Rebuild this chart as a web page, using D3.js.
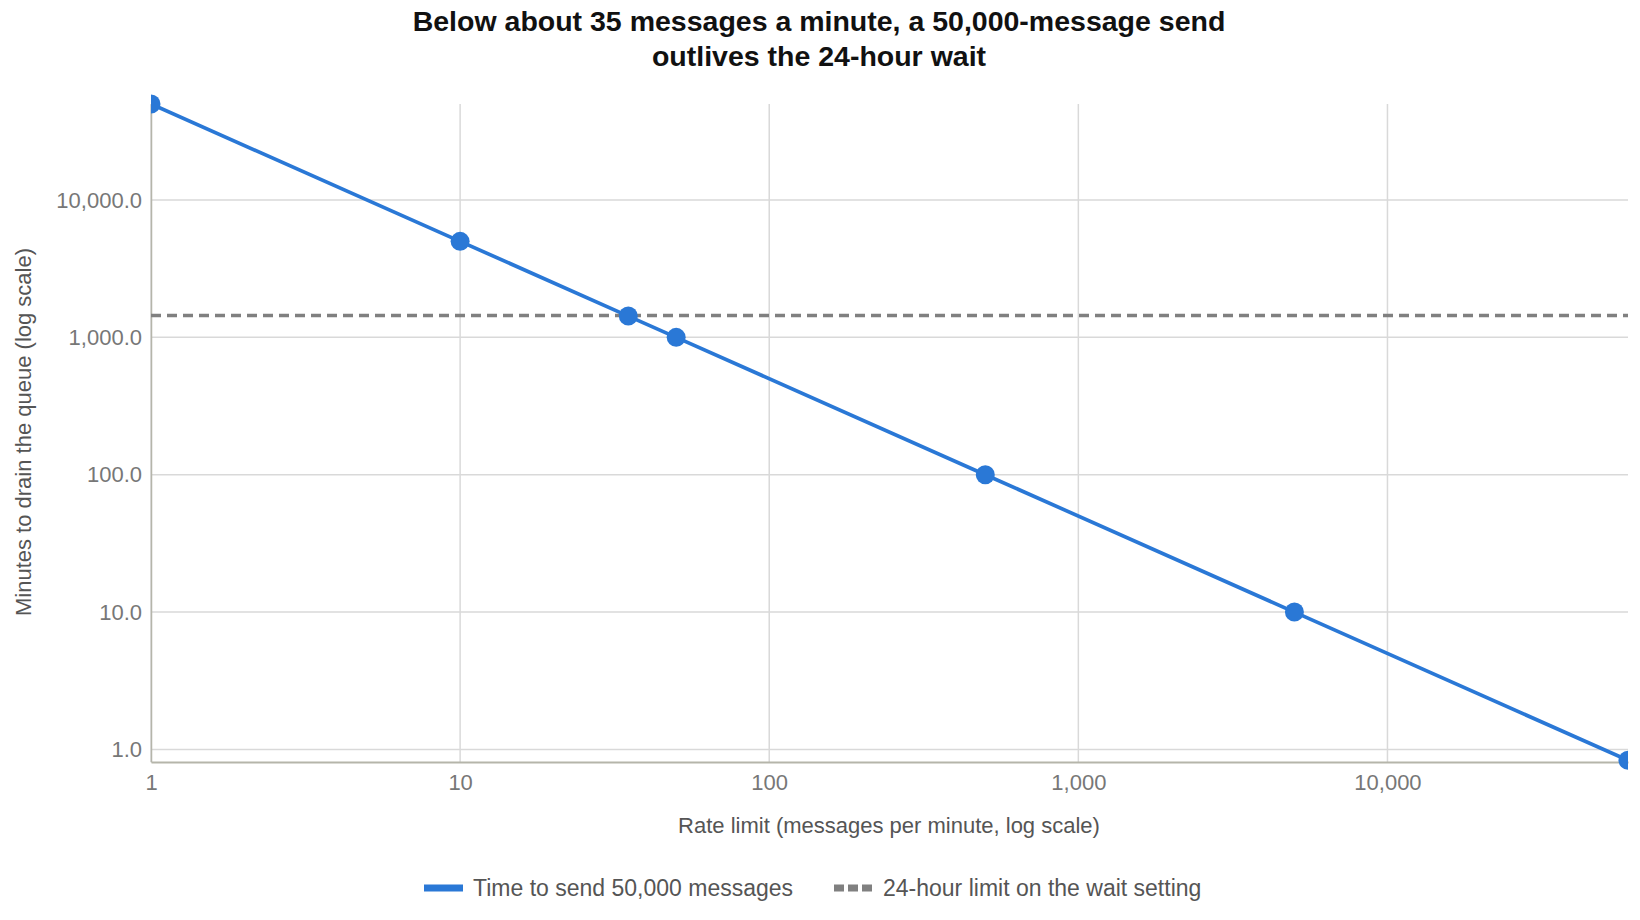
<!DOCTYPE html>
<html><head><meta charset="utf-8">
<script src="https://cdn.jsdelivr.net/npm/d3@7"></script>
<style>body{margin:0;background:#fff;font-family:"Liberation Sans",Arial,sans-serif}</style>
</head><body><svg id="c" width="1640" height="920"></svg>
<script>
const rates = [1, 10, 35, 50, 500, 5000, 60000];
const minutes = [50000, 5000, 1428.6, 1000, 100, 10, 0.833];
const waitLimit = 1440;
const xTicks = [1, 10, 100, 1000, 10000];
const yTicks = [1, 10, 100, 1000, 10000];
const titleLines = ["Below about 35 messages a minute, a 50,000-message send", "outlives the 24-hour wait"];
const legendLabels = ["Time to send 50,000 messages", "24-hour limit on the wait setting"];

const svg = d3.select("#c");
const L = 151, R = 1628, T = 104, B = 762;
const x = d3.scaleLog().domain([1, 60000]).range([L, R]);
const y = d3.scaleLog().domain([0.81, 50000]).range([B, T]);

svg.append("defs").append("clipPath").attr("id", "clip")
  .append("rect").attr("x", L).attr("y", T - 12).attr("width", R - L).attr("height", B - T + 24);

svg.append("g").selectAll("text").data(titleLines).join("text")
  .attr("x", 819).attr("y", (d, i) => 31 + i * 35).attr("text-anchor", "middle")
  .attr("font-size", 28.5).attr("font-weight", "bold").attr("fill", "#111").text(d => d);

svg.append("g").selectAll("line").data(xTicks).join("line")
  .attr("x1", d => x(d)).attr("x2", d => x(d)).attr("y1", T).attr("y2", B)
  .attr("stroke", "#d9d9d9").attr("stroke-width", 1.5);
svg.append("g").selectAll("line").data(yTicks).join("line")
  .attr("x1", L).attr("x2", R).attr("y1", d => y(d)).attr("y2", d => y(d))
  .attr("stroke", "#d9d9d9").attr("stroke-width", 1.5);

const xa = svg.append("g").attr("transform", `translate(0,${B})`)
  .call(d3.axisBottom(x).tickValues(xTicks).tickFormat(d3.format(",")).tickSize(0).tickPadding(12));
xa.select(".domain").attr("stroke", "#b5b5aa").attr("stroke-width", 2);
xa.selectAll("text").attr("font-size", 22).attr("fill", "#777").attr("font-family", "Liberation Sans, Arial");
const ya = svg.append("g").attr("transform", `translate(${L},0)`)
  .call(d3.axisLeft(y).tickValues(yTicks).tickFormat(d3.format(",.1f")).tickSize(0).tickPadding(9));
ya.select(".domain").attr("stroke", "#b5b5aa").attr("stroke-width", 1.5);
ya.selectAll("text").attr("font-size", 22).attr("fill", "#777").attr("font-family", "Liberation Sans, Arial");

svg.append("line").attr("x1", L).attr("x2", R).attr("y1", y(waitLimit)).attr("y2", y(waitLimit))
  .attr("stroke", "#808080").attr("stroke-width", 3.5).attr("stroke-dasharray", "10,6");

const pts = rates.map((r, i) => [r, minutes[i]]);
const g = svg.append("g").attr("clip-path", "url(#clip)");
g.append("path").datum(pts).attr("fill", "none").attr("stroke", "#2a78d6").attr("stroke-width", 3.7)
  .attr("d", d3.line().x(d => x(d[0])).y(d => y(d[1])));
g.selectAll("circle").data(pts).join("circle")
  .attr("cx", d => x(d[0])).attr("cy", d => y(d[1])).attr("r", 9.5).attr("fill", "#2a78d6");

svg.append("text").attr("x", 889).attr("y", 833).attr("text-anchor", "middle")
  .attr("font-size", 22).attr("fill", "#555").text("Rate limit (messages per minute, log scale)");
svg.append("text").attr("transform", "translate(31,432) rotate(-90)").attr("text-anchor", "middle")
  .attr("font-size", 22).attr("fill", "#555").text("Minutes to drain the queue (log scale)");

const lg = svg.append("g");
lg.append("line").attr("x1", 424).attr("x2", 463).attr("y1", 888).attr("y2", 888).attr("stroke", "#2a78d6").attr("stroke-width", 7);
lg.append("text").attr("x", 473).attr("y", 896).attr("font-size", 23).attr("fill", "#555").text(legendLabels[0]);
lg.append("line").attr("x1", 834).attr("x2", 873).attr("y1", 888).attr("y2", 888).attr("stroke", "#808080").attr("stroke-width", 7).attr("stroke-dasharray", "10,4");
lg.append("text").attr("x", 883).attr("y", 896).attr("font-size", 23).attr("fill", "#555").text(legendLabels[1]);
</script></body></html>
